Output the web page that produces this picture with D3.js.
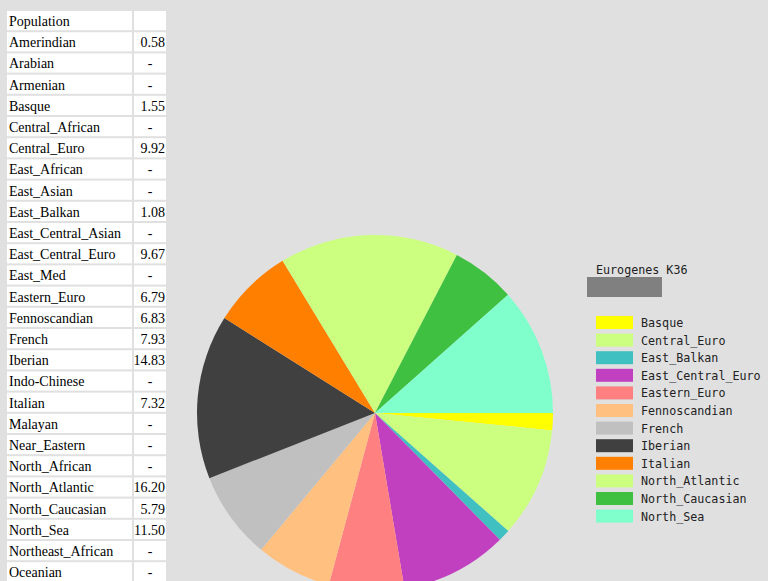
<!DOCTYPE html><html><head><script src="https://d3js.org/d3.v7.min.js"></script>
<style>body{margin:0;background:#e0e0e0;overflow:hidden}.t{font-family:"Liberation Serif","DejaVu Serif",serif;font-size:14px}</style></head><body>
<svg id="c" width="768" height="581"></svg>
<script>
const tableNames=["Population","Amerindian","Arabian","Armenian","Basque","Central_African","Central_Euro","East_African","East_Asian","East_Balkan","East_Central_Asian","East_Central_Euro","East_Med","Eastern_Euro","Fennoscandian","French","Iberian","Indo-Chinese","Italian","Malayan","Near_Eastern","North_African","North_Atlantic","North_Caucasian","North_Sea","Northeast_African","Oceanian"];
const tableValues=["","0.58","-","-","1.55","-","9.92","-","-","1.08","-","9.67","-","6.79","6.83","7.93","14.83","-","7.32","-","-","-","16.20","5.79","11.50","-","-"];
const pieNames=["Basque","Central_Euro","East_Balkan","East_Central_Euro","Eastern_Euro","Fennoscandian","French","Iberian","Italian","North_Atlantic","North_Caucasian","North_Sea"];
const pieValues=[1.55,9.92,1.08,9.67,6.79,6.83,7.93,14.83,7.32,16.20,5.79,11.50];
const pieColors=["#ffff00","#ccff80","#40c0c0","#c040c0","#ff8080","#ffc080","#c0c0c0","#404040","#ff8000","#ccff80","#40c040","#80ffcc"];
const svg=d3.select("#c");
const rowH=21.2, y0=11;
tableNames.forEach((n,i)=>{
  const y=y0+i*rowH;
  svg.append("rect").attr("x",7).attr("y",y).attr("width",125).attr("height",rowH-2).attr("fill","#fff");
  svg.append("rect").attr("x",134).attr("y",y).attr("width",32).attr("height",rowH-2).attr("fill","#fff");
  svg.append("text").attr("class","t").attr("x",9).attr("y",y+15).text(n);
  svg.append("text").attr("class","t").attr("x",165).attr("y",y+15).attr("text-anchor",tableValues[i]==="-"?"middle":"end")
    .attr("dx",tableValues[i]==="-"?-15:0).text(tableValues[i]);
});
const cx=375,cy=413,r=178;
const pie=d3.pie().sort(null).startAngle(Math.PI/2).endAngle(Math.PI/2+2*Math.PI);
const arc=d3.arc().innerRadius(0).outerRadius(r);
svg.append("g").attr("transform",`translate(${cx},${cy})`).selectAll("path").data(pie(pieValues)).join("path")
  .attr("d",arc).attr("fill",(d,i)=>pieColors[i]);
svg.append("text").attr("x",596).attr("y",274).text("Eurogenes K36").attr("font-family","DejaVu Sans Mono").attr("font-size",11.7).attr("fill","#222");
svg.append("rect").attr("x",587).attr("y",277).attr("width",75).attr("height",20).attr("fill","#808080");
pieNames.forEach((n,i)=>{
  const y=316+i*17.6;
  svg.append("rect").attr("x",596).attr("y",y).attr("width",37).attr("height",13).attr("fill",pieColors[i]);
  svg.append("text").attr("x",641).attr("y",y+11).text(n).attr("font-family","DejaVu Sans Mono").attr("font-size",11.7).attr("fill","#222");
});
</script></body></html>
